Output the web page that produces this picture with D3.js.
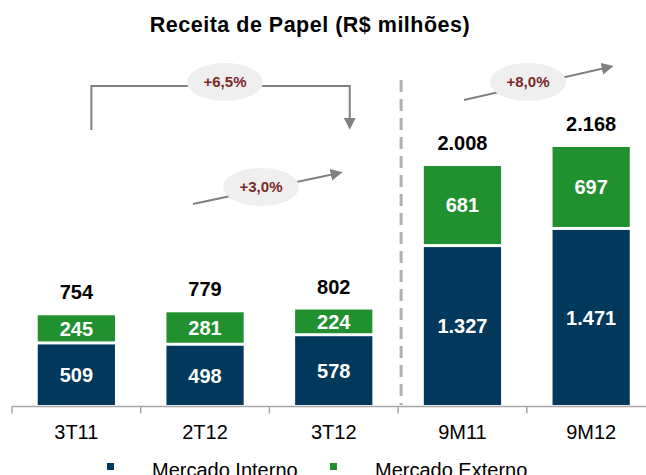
<!DOCTYPE html>
<html>
<head>
<meta charset="utf-8">
<script src="https://cdn.jsdelivr.net/npm/d3@7"></script>
<style>
  body { margin: 0; background: #fff; }
  svg { display: block; font-family: "Liberation Sans", Arial, sans-serif; }
</style>
</head>
<body>
<div id="chart"></div>
<script>
// periods and values (R$ milhões)
const categories = ["3T11", "2T12", "3T12", "9M11", "9M12"];
const mercadoInterno = [509, 498, 578, 1327, 1471];
const mercadoExterno = [245, 281, 224, 681, 697];
const totals = [754, 779, 802, 2008, 2168];
const seriesNames = ["Mercado Interno", "Mercado Externo"];
const growthLabels = ["+6,5%", "+3,0%", "+8,0%"];

const width = 646, height = 475;
const blue = "#02385c", green = "#21902f", axisGray = "#a6a6a6", arrowGray = "#808080";

// number format pt-BR: 1.327
const fmt = v => d3.format(",")(v).replace(/,/g, ".");

const svg = d3.select("#chart").append("svg")
  .attr("width", width)
  .attr("height", height);

const x = d3.scaleBand()
  .domain(categories)
  .range([12, 655.5])
  .paddingInner(0.4)
  .paddingOuter(0.2);

const y = d3.scaleLinear()
  .domain([0, 2500])
  .range([405, 405 - 2500 * 0.119]);

const xc = c => x(c) + x.bandwidth() / 2;

// title
svg.append("text")
  .attr("x", 310).attr("y", 32)
  .attr("text-anchor", "middle")
  .style("font-size", "21.5px").style("font-weight", "bold")
  .style("letter-spacing", "0.5px")
  .text("Receita de Papel (R$ milhões)");

// bars
const rows = categories.map((c, i) => ({ c, mi: mercadoInterno[i], me: mercadoExterno[i], total: totals[i] }));
const gap = 3;

const g = svg.append("g");
g.selectAll("rect.mi").data(rows).enter().append("rect")
  .attr("class", "mi")
  .attr("x", d => x(d.c)).attr("width", x.bandwidth())
  .attr("y", d => y(d.mi)).attr("height", d => y(0) - y(d.mi))
  .attr("fill", blue);

g.selectAll("rect.me").data(rows).enter().append("rect")
  .attr("class", "me")
  .attr("x", d => x(d.c)).attr("width", x.bandwidth())
  .attr("y", d => y(d.total)).attr("height", d => y(d.mi) - y(d.total) - gap)
  .attr("fill", green);

// labels inside segments
g.selectAll("text.mi").data(rows).enter().append("text")
  .attr("x", d => xc(d.c)).attr("y", d => (y(0) + y(d.mi)) / 2)
  .attr("dy", "0.36em").attr("text-anchor", "middle")
  .style("fill", "#fff").style("font-size", "20px").style("font-weight", "bold")
  .text(d => fmt(d.mi));

g.selectAll("text.me").data(rows).enter().append("text")
  .attr("x", d => xc(d.c)).attr("y", d => (y(d.mi) - gap + y(d.total)) / 2)
  .attr("dy", "0.36em").attr("text-anchor", "middle")
  .style("fill", "#fff").style("font-size", "20px").style("font-weight", "bold")
  .text(d => fmt(d.me));

g.selectAll("text.tot").data(rows).enter().append("text")
  .attr("x", d => xc(d.c)).attr("y", d => y(d.total) - 23)
  .attr("dy", "0.36em").attr("text-anchor", "middle")
  .style("fill", "#000").style("font-size", "20px").style("font-weight", "bold")
  .text(d => fmt(d.total));

// x axis
const axisY = 406.5;
svg.append("line")
  .attr("x1", 12).attr("x2", width).attr("y1", axisY).attr("y2", axisY)
  .attr("stroke", axisGray).attr("stroke-width", 1.5);

const step = x.step();
const tickXs = d3.range(categories.length + 1).map(i => x(categories[0]) - x.paddingOuter() * step + i * step);
svg.selectAll("line.tick").data(tickXs).enter().append("line")
  .attr("x1", d => d).attr("x2", d => d).attr("y1", axisY).attr("y2", axisY + 7)
  .attr("stroke", axisGray).attr("stroke-width", 1.5);

svg.selectAll("text.cat").data(categories).enter().append("text")
  .attr("x", d => xc(d)).attr("y", 439)
  .attr("text-anchor", "middle")
  .style("font-size", "20px").style("fill", "#000")
  .text(d => d);

// dashed separator between quarters and 9 months
const sepX = tickXs[3] + 3;
svg.append("line")
  .attr("x1", sepX).attr("x2", sepX).attr("y1", 80).attr("y2", 405)
  .attr("stroke", "#b0b0b0").attr("stroke-width", 3)
  .attr("stroke-dasharray", "12,7");

// arrows
svg.append("defs").append("marker")
  .attr("id", "head")
  .attr("viewBox", "0 0 10 10")
  .attr("refX", 1).attr("refY", 5)
  .attr("markerWidth", 6).attr("markerHeight", 6)
  .attr("markerUnits", "strokeWidth")
  .attr("orient", "auto")
  .append("path").attr("d", "M0,0 L10,5 L0,10 Z").attr("fill", arrowGray);

const ann = svg.append("g");
const bl = xc("3T11") + 15, br = xc("3T12") + 16;
ann.append("path")
  .attr("d", `M${bl},130 V86 H${br} V119`)
  .attr("fill", "none").attr("stroke", arrowGray).attr("stroke-width", 2)
  .attr("marker-end", "url(#head)");

ann.append("line")
  .attr("x1", 193).attr("y1", 204).attr("x2", 332).attr("y2", 174.5)
  .attr("stroke", arrowGray).attr("stroke-width", 2)
  .attr("marker-end", "url(#head)");

ann.append("line")
  .attr("x1", 464).attr("y1", 100).attr("x2", 603).attr("y2", 68.5)
  .attr("stroke", arrowGray).attr("stroke-width", 2)
  .attr("marker-end", "url(#head)");

const bubbles = [
  { cx: 225, cy: 82, t: growthLabels[0] },
  { cx: 261, cy: 187, t: growthLabels[1] },
  { cx: 528, cy: 82, t: growthLabels[2] }
];
ann.selectAll("ellipse").data(bubbles).enter().append("ellipse")
  .attr("cx", d => d.cx).attr("cy", d => d.cy).attr("rx", 38).attr("ry", 19)
  .attr("fill", "#efefef");
ann.selectAll("text.pct").data(bubbles).enter().append("text")
  .attr("x", d => d.cx).attr("y", d => d.cy)
  .attr("dy", "0.36em").attr("text-anchor", "middle")
  .style("font-size", "15px").style("font-weight", "bold").style("fill", "#7a2828")
  .text(d => d.t);

// legend (cut by the bottom edge, as in the source)
const legX = [107, 330];
const leg = svg.selectAll("g.leg").data(seriesNames).enter().append("g");
leg.append("rect")
  .attr("x", (d, i) => legX[i]).attr("y", 463).attr("width", 7).attr("height", 7)
  .attr("fill", (d, i) => i === 0 ? blue : green);
leg.append("text")
  .attr("x", (d, i) => legX[i] + 45).attr("y", 476.5)
  .style("font-size", "20px").style("fill", "#000")
  .text(d => d);
</script>
</body>
</html>
